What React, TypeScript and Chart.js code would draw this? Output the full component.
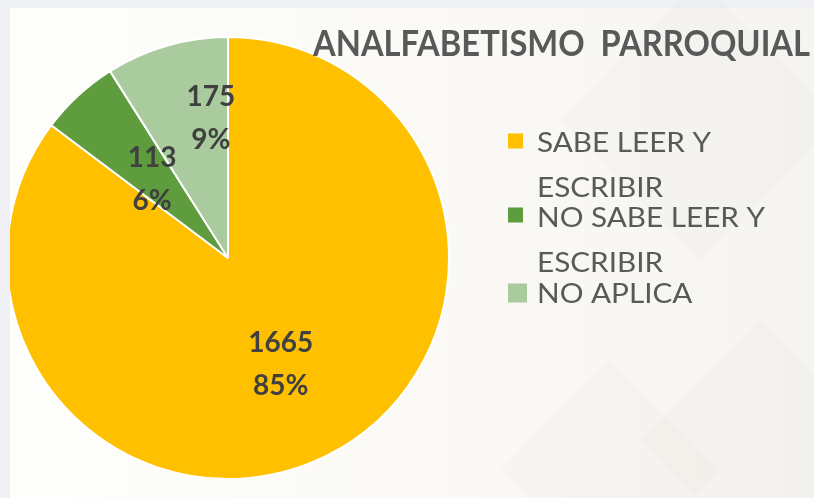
import React, { useEffect, useRef } from "react";
import { Chart, registerables } from "chart.js";

Chart.register(...registerables);

const categories = ["SABE LEER Y ESCRIBIR", "NO SABE LEER Y ESCRIBIR", "NO APLICA"];
const legendLines = [["SABE LEER Y", "ESCRIBIR"], ["NO SABE LEER Y", "ESCRIBIR"], ["NO APLICA"]];
const values = [1665, 113, 175];
const colors = ["#FFC000", "#5E9C3D", "#A9CB9D"];
const titleText = "ANALFABETISMO  PARROQUIAL";

// label placement inside each slice (fraction of angle span, fraction of radius)
const labelAngleFrac = [0.5, 0.44, 0.785];
const labelRadiusFrac = [0.534, 0.495, 0.639];

const W = 814;
const H = 498;

export default function App() {
  const ref = useRef<HTMLCanvasElement | null>(null);

  useEffect(() => {
    document.body.style.margin = "0";
    const canvas = ref.current!;
    const total = values.reduce((a, b) => a + b, 0);

    const deco = {
      id: "deco",
      beforeDraw(chart: any) {
        const ctx = chart.ctx as CanvasRenderingContext2D;
        ctx.save();
        ctx.fillStyle = "#eff1f4";
        ctx.fillRect(0, 0, W, H);
        const g = ctx.createLinearGradient(10, 0, W, 0);
        g.addColorStop(0, "#fefefc");
        g.addColorStop(0.45, "#fbfaf7");
        g.addColorStop(1, "#f6f4f1");
        ctx.fillStyle = g;
        ctx.fillRect(10, 8, W - 10, H - 8);
        ctx.fillStyle = "rgba(120,110,100,0.022)";
        const diamonds = [
          [610, 470, 110],
          [760, 440, 120],
          [700, 120, 140],
        ];
        for (const [cx, cy, r] of diamonds) {
          ctx.beginPath();
          ctx.moveTo(cx, cy - r);
          ctx.lineTo(cx + r, cy);
          ctx.lineTo(cx, cy + r);
          ctx.lineTo(cx - r, cy);
          ctx.closePath();
          ctx.fill();
        }
        ctx.restore();
      },
      beforeDatasetsDraw(chart: any) {
        const ctx = chart.ctx as CanvasRenderingContext2D;
        ctx.save();
        ctx.beginPath();
        ctx.rect(10, 8, W - 10, H - 8);
        ctx.clip();
      },
      afterDatasetsDraw(chart: any) {
        const ctx = chart.ctx as CanvasRenderingContext2D;
        ctx.restore();
        const meta = chart.getDatasetMeta(0);
        ctx.save();
        ctx.fillStyle = "#404040";
        ctx.font = "bold 28px Lato";
        ctx.textAlign = "center";
        ctx.textBaseline = "middle";
        meta.data.forEach((arc: any, i: number) => {
          const p = arc.getProps(["x", "y", "startAngle", "endAngle", "outerRadius"], true);
          const a = p.startAngle + (p.endAngle - p.startAngle) * labelAngleFrac[i];
          const r = p.outerRadius * labelRadiusFrac[i];
          const cx = p.x + Math.cos(a) * r;
          const cy = p.y + Math.sin(a) * r;
          const pct = Math.round((values[i] / total) * 100) + "%";
          ctx.fillText(String(values[i]), cx, cy - 21);
          ctx.fillText(pct, cx, cy + 22);
        });
        ctx.restore();
      },
      afterDraw(chart: any) {
        const ctx = chart.ctx as CanvasRenderingContext2D;
        ctx.save();
        // title
        ctx.fillStyle = "#595959";
        ctx.font = "bold 36px Lato";
        ctx.textBaseline = "alphabetic";
        const tw = ctx.measureText(titleText).width;
        ctx.translate(313, 56);
        ctx.scale(497 / tw, 1);
        ctx.fillText(titleText, 0, 0);
        ctx.restore();

        // legend
        ctx.save();
        ctx.font = "27px Lato";
        ctx.textBaseline = "alphabetic";
        const base = ctx.measureText("SABE LEER Y").width;
        const sx = 174 / base;
        const baselines = [[152, 197], [227, 272], [303]];
        const sqCenter = [141, 215, 293];
        const sqSize = [15, 15, 19];
        legendLines.forEach((lines, i) => {
          ctx.fillStyle = colors[i];
          const s = sqSize[i];
          ctx.fillRect(508, sqCenter[i] - s / 2, s, s);
          ctx.fillStyle = "#595959";
          lines.forEach((t, j) => {
            ctx.save();
            ctx.translate(537, baselines[i][j]);
            ctx.scale(sx, 1);
            ctx.fillText(t, 0, 0);
            ctx.restore();
          });
        });
        ctx.restore();
      },
    };

    const chart = new Chart(canvas, {
      type: "pie",
      data: {
        labels: categories,
        datasets: [
          {
            data: values,
            backgroundColor: colors,
            borderColor: "#ffffff",
            borderWidth: 2,
          },
        ],
      },
      options: {
        responsive: false,
        animation: false,
        devicePixelRatio: 1,
        layout: { padding: { left: 6, right: W - 450, top: 36, bottom: H - 480 } },
        plugins: {
          legend: { display: false },
          tooltip: { enabled: false },
          title: { display: false },
        },
      },
      plugins: [deco],
    });
    return () => chart.destroy();
  }, []);

  return (
    <div style={{ width: W, height: H }}>
      <canvas ref={ref} width={W} height={H} style={{ display: "block", width: W, height: H }} />
    </div>
  );
}
